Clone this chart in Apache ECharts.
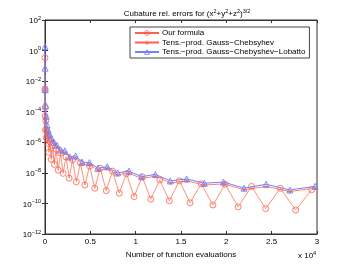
<!DOCTYPE html>
<html><head><meta charset="utf-8">
<script src="https://cdn.jsdelivr.net/npm/echarts@6/dist/echarts.min.js"></script>
<style>html,body{margin:0;padding:0;background:#fff}#c{width:350px;height:264px}</style>
</head><body><div id="c"></div>
<script>
// Number of function evaluations
const oursEvals = [0, 2, 7, 16, 31, 54, 86, 128, 182, 250, 333, 432, 549, 686, 844, 1024, 1228, 1458, 1715, 2000, 2315, 2662, 3042, 3456, 3906, 4394, 4921, 5488, 6097, 6750, 7448, 8192, 8984, 9826, 10719, 11664, 12663, 13718, 14830, 16000, 17230, 18522, 19877, 21296, 22781, 24334, 25956, 27648, 29412];
const oursErr = [3.4e-1, 3.2e-3, 2.5e-3, 5.0e-5, 2.0e-4, 6.3e-6, 2.5e-5, 2.0e-6, 6.3e-6, 8.7e-7, 2.5e-6, 2.2e-7, 1.1e-6, 7.8e-8, 6.3e-7, 3.6e-8, 3.5e-7, 1.5e-8, 2.0e-7, 9.3e-9, 1.1e-7, 4.5e-9, 7.1e-8, 2.6e-9, 4.5e-8, 1.6e-9, 2.8e-8, 9.8e-10, 2.0e-8, 6.9e-10, 1.3e-8, 4.7e-10, 8.9e-9, 2.8e-10, 5.6e-9, 1.9e-10, 3.5e-9, 1.5e-10, 3.0e-9, 1.1e-10, 1.9e-9, 7.9e-11, 1.8e-9, 5.9e-11, 1.3e-9, 4.6e-11, 9.8e-10, 3.7e-11, 7.9e-10];
const tensorEvals = [1, 8, 27, 64, 125, 216, 343, 512, 729, 1000, 1331, 1728, 2197, 2744, 3375, 4096, 4913, 5832, 6859, 8000, 9261, 10648, 12167, 13824, 15625, 17576, 19683, 21952, 24389, 27000, 29791];
const gcErr = [3.5e-3, 3.2e-4, 5.0e-5, 1.6e-5, 7.9e-6, 5.0e-6, 3.2e-6, 2.2e-6, 1.3e-6, 7.6e-7, 4.8e-7, 2.4e-7, 2.1e-7, 8.5e-8, 9.5e-8, 3.8e-8, 3.5e-8, 1.5e-8, 1.9e-8, 7.6e-9, 9.5e-9, 4.3e-9, 6.0e-9, 2.2e-9, 3.0e-9, 1.6e-9, 1.9e-9, 7.9e-10, 1.3e-9, 6.0e-10, 1.0e-9];
const gclErr = [1.8, 7.1e-2, 2.8e-3, 2.5e-4, 5.0e-5, 1.4e-5, 6.3e-6, 3.2e-6, 1.8e-6, 1.0e-6, 6.3e-7, 3.2e-7, 2.8e-7, 1.1e-7, 1.3e-7, 5.0e-8, 4.7e-8, 2.0e-8, 2.5e-8, 1.0e-8, 1.3e-8, 5.6e-9, 7.9e-9, 3.0e-9, 4.0e-9, 2.1e-9, 2.5e-9, 1.0e-9, 1.8e-9, 7.6e-10, 1.3e-9];
const seriesNames = ['Our formula', 'Tens.\u2212prod. Gauss\u2212Chebsyhev', 'Tens.\u2212prod. Gauss\u2212Chebyshev\u2212Lobatto'];
const xTickLabels = ['0', '0.5', '1', '1.5', '2', '2.5', '3'];

const RED = '#ff6048', BLUE = '#7080ff', AX = '#333';
const FONT = 'Liberation Sans';
const pair = (xs, ys) => xs.map((x, i) => [x, ys[i]]);
const star = 'path://M50,0 L61,35 98,35 68,57 79,91 50,70 21,91 32,57 2,35 39,35 Z';
const supRich = {
  b: {fontSize: 8, fontFamily: FONT, fontWeight: 'normal', color: '#000', lineHeight: 10, verticalAlign: 'bottom'},
  s: {fontSize: 5.5, fontFamily: FONT, fontWeight: 'normal', color: '#000', lineHeight: 6, verticalAlign: 'top'}
};

const chart = echarts.init(document.getElementById('c'), null, {renderer: 'canvas'});
const xBase = {type: 'value', min: 0, max: 30000, interval: 5000, splitLine: {show: false},
  axisLine: {show: true, onZero: false, lineStyle: {color: AX, width: 1}},
  axisTick: {inside: true, length: 3, lineStyle: {color: AX}}};
const yBase = {type: 'log', logBase: 10, min: 1e-12, max: 1e2, interval: 2, splitLine: {show: false},
  minorTick: {show: false},
  axisLine: {show: true, lineStyle: {color: AX, width: 1}},
  axisTick: {inside: true, length: 3, lineStyle: {color: AX}}};

chart.setOption({
  animation: false,
  backgroundColor: '#fff',
  title: {
    text: '{b|Cubature rel. errors for (x}{s|2}{b|+y}{s|2}{b|+z}{s|2}{b|)}{s|3/2}',
    left: 182, top: 3, textAlign: 'center',
    textStyle: {fontWeight: 'normal', rich: supRich}
  },
  grid: {left: 45, top: 20, width: 272, height: 214, show: true, borderColor: AX, borderWidth: 1, containLabel: false},
  legend: {
    orient: 'vertical', left: 130, top: 27, itemGap: 1.5, itemWidth: 24, itemHeight: 6,
    padding: [2, 4, 2, 4], borderColor: '#444', borderWidth: 1, backgroundColor: '#fff',
    textStyle: {fontSize: 8, fontFamily: FONT, color: '#000', padding: [0, 0, 0, -2]},
    data: [
      {name: seriesNames[0], itemStyle: {color: 'rgba(255,255,255,0)', borderColor: RED, borderWidth: 0.8}},
      {name: seriesNames[1], itemStyle: {color: RED}},
      {name: seriesNames[2], itemStyle: {color: 'rgba(255,255,255,0)', borderColor: BLUE, borderWidth: 0.8}}
    ]
  },
  xAxis: [
    Object.assign({}, xBase, {position: 'bottom',
      name: 'Number of function evaluations', nameLocation: 'middle', nameGap: 11,
      nameTextStyle: {fontSize: 8, fontFamily: FONT, color: '#000'},
      axisLabel: {fontSize: 8, fontFamily: FONT, color: '#000', margin: 4,
        formatter: v => xTickLabels[Math.round(v / 5000)]}}),
    Object.assign({}, xBase, {position: 'top', axisLabel: {show: false}})
  ],
  yAxis: [
    Object.assign({}, yBase, {position: 'left',
      axisLabel: {margin: 4, rich: supRich,
        formatter: v => { const e = Math.round(Math.log10(v)); return '{b|10}{s|' + (e < 0 ? '\u2212' + (-e) : e) + '}'; }}}),
    Object.assign({}, yBase, {position: 'right', axisLabel: {show: false}})
  ],
  graphic: [{
    type: 'text', left: 298, top: 250,
    style: {text: '{b|x 10}{s|4}', rich: supRich}
  }],
  series: [
    {name: seriesNames[0], type: 'line', data: pair(oursEvals, oursErr), symbol: 'circle', symbolSize: 6,
      lineStyle: {color: RED, width: 0.7}, itemStyle: {color: 'rgba(255,255,255,0)', borderColor: RED, borderWidth: 0.8}, z: 3},
    {name: seriesNames[1], type: 'line', data: pair(tensorEvals, gcErr), symbol: star, symbolSize: 4.5,
      lineStyle: {color: RED, width: 0.8}, itemStyle: {color: RED}, z: 4},
    {name: seriesNames[2], type: 'line', data: pair(tensorEvals, gclErr), symbol: 'triangle', symbolSize: 6,
      lineStyle: {color: BLUE, width: 1}, itemStyle: {color: 'rgba(255,255,255,0)', borderColor: BLUE, borderWidth: 0.9}, z: 5}
  ]
});
</script></body></html>
